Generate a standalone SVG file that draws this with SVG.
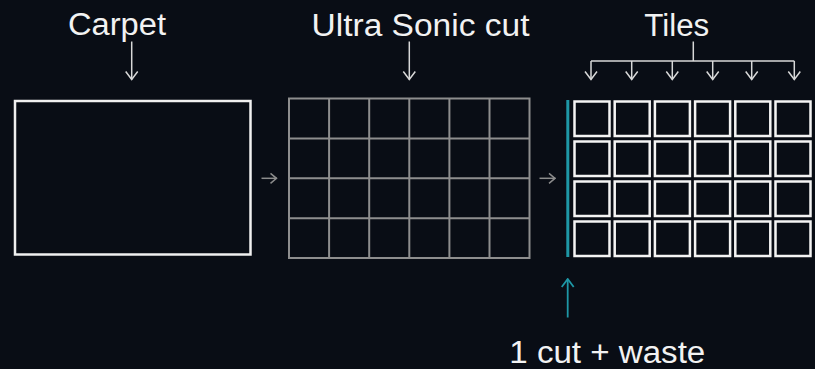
<svg xmlns="http://www.w3.org/2000/svg" width="815" height="369" viewBox="0 0 815 369">
<defs>
<style>
.lbl{font-family:"Liberation Sans",Arial,sans-serif;font-size:31px;fill:#f2f2f2}
.down{stroke:#d8d8d8;stroke-width:1.5;fill:none}
.right{stroke:#8c8c8c;stroke-width:1.5;fill:none}
.tile{fill:none;stroke:#f4f4f4;stroke-width:2.5}
.grid{fill:none;stroke:#8e8e8e;stroke-width:2}
</style>
<marker id="hd" markerUnits="userSpaceOnUse" viewBox="0 0 10 14" refX="9" refY="7" markerWidth="10" markerHeight="14" orient="auto">
<path d="M1,1 L9,7 L1,13" fill="none" stroke="#d8d8d8" stroke-width="1.5"/>
</marker>
<marker id="hg" markerUnits="userSpaceOnUse" viewBox="0 0 8 12" refX="7.5" refY="6" markerWidth="8" markerHeight="12" orient="auto">
<path d="M1,1 L7,6 L1,11" fill="none" stroke="#8c8c8c" stroke-width="1.5"/>
</marker>
<marker id="ht" markerUnits="userSpaceOnUse" viewBox="0 0 10 14" refX="9" refY="7" markerWidth="10" markerHeight="14" orient="auto">
<path d="M1,1 L9,7 L1,13" fill="none" stroke="#1e97a6" stroke-width="1.8"/>
</marker>
</defs>
<rect x="0" y="0" width="815" height="369" fill="#090d15"/>

<g id="carpet">
<text class="lbl" x="68" y="35" textLength="98" lengthAdjust="spacingAndGlyphs">Carpet</text>
<rect x="15" y="101" width="235.5" height="153.5" fill="none" stroke="#f0f0f0" stroke-width="2.5"/>
</g>

<g id="ultrasonic">
<text class="lbl" x="311.5" y="35.5" textLength="218" lengthAdjust="spacingAndGlyphs">Ultra Sonic cut</text>
<rect class="grid" x="289" y="98.5" width="240.5" height="159.5"/>
<path class="grid" d="M329.1,98.5V258 M369.2,98.5V258 M409.3,98.5V258 M449.4,98.5V258 M489.5,98.5V258 M289,138.4H529.5 M289,178.3H529.5 M289,218.2H529.5"/>
</g>

<g id="tiles">
<text class="lbl" x="644.3" y="35.5" textLength="65" lengthAdjust="spacingAndGlyphs">Tiles</text>
<rect x="566.3" y="100" width="3" height="157" fill="#1e97a6"/>
<g>
<rect class="tile" x="574.5" y="101.5" width="35" height="34.5"/>
<rect class="tile" x="614.7" y="101.5" width="35" height="34.5"/>
<rect class="tile" x="654.9" y="101.5" width="35" height="34.5"/>
<rect class="tile" x="695.1" y="101.5" width="35" height="34.5"/>
<rect class="tile" x="735.3" y="101.5" width="35" height="34.5"/>
<rect class="tile" x="775.5" y="101.5" width="35" height="34.5"/>
<rect class="tile" x="574.5" y="141.5" width="35" height="34.5"/>
<rect class="tile" x="614.7" y="141.5" width="35" height="34.5"/>
<rect class="tile" x="654.9" y="141.5" width="35" height="34.5"/>
<rect class="tile" x="695.1" y="141.5" width="35" height="34.5"/>
<rect class="tile" x="735.3" y="141.5" width="35" height="34.5"/>
<rect class="tile" x="775.5" y="141.5" width="35" height="34.5"/>
<rect class="tile" x="574.5" y="181.5" width="35" height="34.5"/>
<rect class="tile" x="614.7" y="181.5" width="35" height="34.5"/>
<rect class="tile" x="654.9" y="181.5" width="35" height="34.5"/>
<rect class="tile" x="695.1" y="181.5" width="35" height="34.5"/>
<rect class="tile" x="735.3" y="181.5" width="35" height="34.5"/>
<rect class="tile" x="775.5" y="181.5" width="35" height="34.5"/>
<rect class="tile" x="574.5" y="221.5" width="35" height="34.5"/>
<rect class="tile" x="614.7" y="221.5" width="35" height="34.5"/>
<rect class="tile" x="654.9" y="221.5" width="35" height="34.5"/>
<rect class="tile" x="695.1" y="221.5" width="35" height="34.5"/>
<rect class="tile" x="735.3" y="221.5" width="35" height="34.5"/>
<rect class="tile" x="775.5" y="221.5" width="35" height="34.5"/>
</g>
</g>

<g id="waste">
<text class="lbl" x="509.3" y="363.3" textLength="196" lengthAdjust="spacingAndGlyphs">1 cut + waste</text>
</g>

<g id="connectors">
<line class="down" x1="131.7" y1="41.5" x2="131.7" y2="79.5" marker-end="url(#hd)"/>
<line class="down" x1="409.3" y1="41.5" x2="409.3" y2="79.5" marker-end="url(#hd)"/>
<path class="down" d="M693.3,41.5V61 M591,61H794.3"/>
<line class="down" x1="591" y1="61" x2="591" y2="79.5" marker-end="url(#hd)"/>
<line class="down" x1="631.7" y1="61" x2="631.7" y2="79.5" marker-end="url(#hd)"/>
<line class="down" x1="672.3" y1="61" x2="672.3" y2="79.5" marker-end="url(#hd)"/>
<line class="down" x1="712.7" y1="61" x2="712.7" y2="79.5" marker-end="url(#hd)"/>
<line class="down" x1="751.7" y1="61" x2="751.7" y2="79.5" marker-end="url(#hd)"/>
<line class="down" x1="794.3" y1="61" x2="794.3" y2="79.5" marker-end="url(#hd)"/>
<line class="right" x1="261.5" y1="178.3" x2="277" y2="178.3" marker-end="url(#hg)"/>
<line class="right" x1="539.5" y1="178.3" x2="555.5" y2="178.3" marker-end="url(#hg)"/>
<line x1="567.7" y1="317.5" x2="567.7" y2="279" stroke="#1e97a6" stroke-width="1.8" marker-end="url(#ht)"/>
</g>
</svg>
